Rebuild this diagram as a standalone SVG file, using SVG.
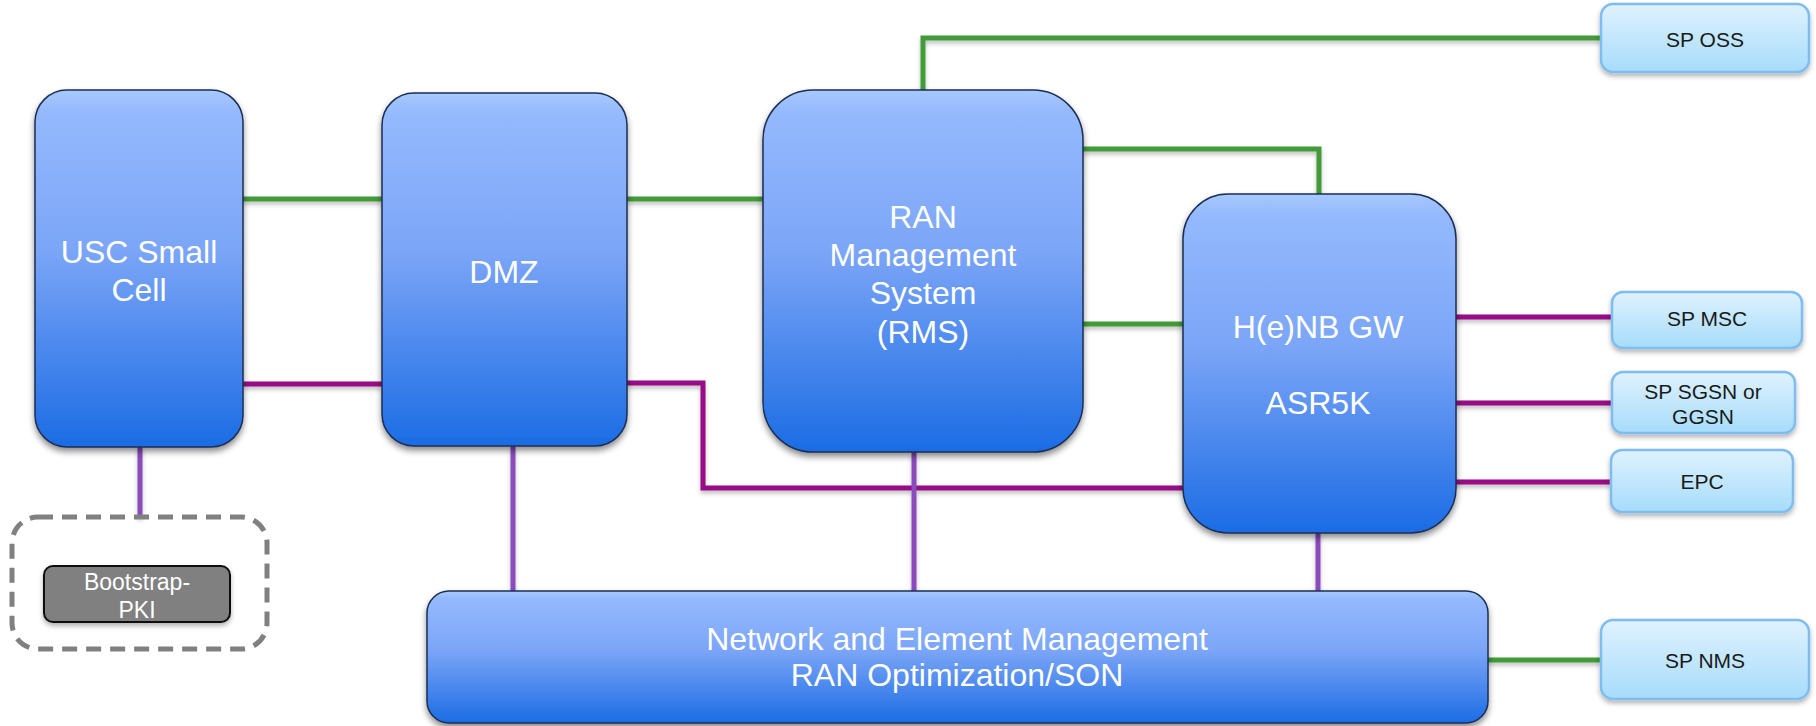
<svg xmlns="http://www.w3.org/2000/svg" width="1816" height="726" viewBox="0 0 1816 726">
<style>
.blue{fill:url(#gBlue);stroke:#1b2f55;stroke-width:1.5;filter:url(#sh)}
.sp{fill:url(#gSp);stroke:#7fbdf0;stroke-width:2.5;filter:url(#sh2)}
.tw{font-family:"Liberation Sans",Arial,sans-serif;font-size:32px;fill:#ffffff;text-anchor:middle}
.ts{font-family:"Liberation Sans",Arial,sans-serif;font-size:21px;fill:#1a1a1a;text-anchor:middle}
.g{stroke:#419b39;stroke-width:5;fill:none}
.m{stroke:#960c86;stroke-width:5;fill:none}
.v{stroke:#8a4cbc;stroke-width:5;fill:none}
</style>
<defs>
<linearGradient id="gBlue" x1="0" y1="0" x2="0" y2="1">
<stop offset="0" stop-color="#a8c9ff"/>
<stop offset="0.06" stop-color="#94b9fd"/>
<stop offset="0.45" stop-color="#7ba5f7"/>
<stop offset="1" stop-color="#1b6ce4"/>
</linearGradient>
<linearGradient id="gSp" x1="0" y1="0" x2="0" y2="1">
<stop offset="0" stop-color="#dff2fe"/>
<stop offset="1" stop-color="#a6dcfb"/>
</linearGradient>
<filter id="sh" x="-10%" y="-10%" width="120%" height="120%">
<feDropShadow dx="0" dy="4" stdDeviation="3" flood-color="#000" flood-opacity="0.45"/>
</filter>
<filter id="sh2" x="-10%" y="-10%" width="120%" height="130%">
<feDropShadow dx="0" dy="3" stdDeviation="2.5" flood-color="#000" flood-opacity="0.3"/>
</filter>
<filter id="shl" x="-5%" y="-50%" width="110%" height="300%">
<feDropShadow dx="0" dy="3" stdDeviation="2" flood-color="#000" flood-opacity="0.25"/>
</filter>
</defs>
<rect width="1816" height="726" fill="#ffffff"/>

<g id="connectors" filter="url(#shl)">
<path class="g" d="M243,199 H382"/>
<path class="g" d="M627,199 H763"/>
<path class="g" d="M923,90 V38 H1601"/>
<path class="g" d="M1083,149 H1319 V194"/>
<path class="g" d="M1083,324 H1183"/>
<path class="g" d="M1488,660 H1601"/>
<path class="m" d="M243,384 H382"/>
<path class="m" d="M627,383 H703 V488 H1183"/>
<path class="m" d="M1456,317 H1612"/>
<path class="m" d="M1456,403 H1612"/>
<path class="m" d="M1452,482 H1611"/>
<path class="v" d="M140,447 V517"/>
<path class="v" d="M513,446 V591"/>
<path class="v" d="M914,452 V591"/>
<path class="v" d="M1318,533 V591"/>
</g>

<g id="usc">
<rect class="blue" x="35" y="90" width="208" height="357" rx="32"/>
<text class="tw" x="139" y="263">USC Small</text>
<text class="tw" x="139" y="301">Cell</text>
</g>

<g id="bootstrap-group">
<rect x="12" y="517" width="255" height="132" rx="26" fill="none" stroke="#808080" stroke-width="5" stroke-dasharray="15 9"/>
</g>
<g id="bootstrap">
<rect x="44" y="566" width="186" height="56" rx="9" fill="#808080" stroke="#111" stroke-width="2" filter="url(#sh2)"/>
<text x="137" y="590" text-anchor="middle" font-family="Liberation Sans, Arial, sans-serif" font-size="23" fill="#fff">Bootstrap-</text>
<text x="137" y="618" text-anchor="middle" font-family="Liberation Sans, Arial, sans-serif" font-size="23" fill="#fff">PKI</text>
</g>

<g id="dmz">
<rect class="blue" x="382" y="93" width="245" height="353" rx="32"/>
<text class="tw" x="504" y="283">DMZ</text>
</g>

<g id="rms">
<rect class="blue" x="763" y="90" width="320" height="362" rx="50"/>
<text class="tw" x="923" y="228">RAN</text>
<text class="tw" x="923" y="266">Management</text>
<text class="tw" x="923" y="304">System</text>
<text class="tw" x="923" y="343">(RMS)</text>
</g>

<g id="henb">
<rect class="blue" x="1183" y="194" width="273" height="339" rx="45"/>
<text class="tw" x="1318" y="338">H(e)NB GW</text>
<text class="tw" x="1318" y="414">ASR5K</text>
</g>

<g id="nem">
<rect class="blue" x="427" y="591" width="1061" height="132" rx="22"/>
<text class="tw" x="957" y="650">Network and Element Management</text>
<text class="tw" x="957" y="686">RAN Optimization/SON</text>
</g>

<g id="sp-oss">
<rect class="sp" x="1601" y="4" width="208" height="68" rx="12"/>
<text class="ts" x="1705" y="47">SP OSS</text>
</g>
<g id="sp-msc">
<rect class="sp" x="1612" y="292" width="190" height="56" rx="11"/>
<text class="ts" x="1707" y="326">SP MSC</text>
</g>
<g id="sp-sgsn">
<rect class="sp" x="1612" y="372" width="183" height="61" rx="11"/>
<text class="ts" x="1703" y="399">SP SGSN or</text>
<text class="ts" x="1703" y="424">GGSN</text>
</g>
<g id="epc">
<rect class="sp" x="1611" y="450" width="182" height="62" rx="11"/>
<text class="ts" x="1702" y="489">EPC</text>
</g>
<g id="sp-nms">
<rect class="sp" x="1601" y="620" width="208" height="79" rx="12"/>
<text class="ts" x="1705" y="668">SP NMS</text>
</g>
</svg>
